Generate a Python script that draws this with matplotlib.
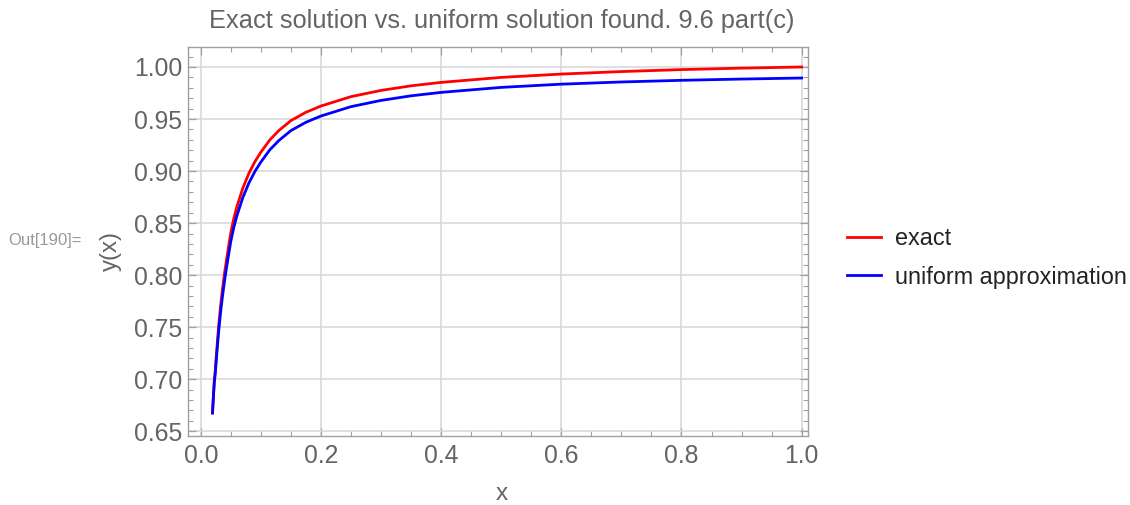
import matplotlib
matplotlib.use("Agg")
import matplotlib.pyplot as plt
from matplotlib.ticker import MultipleLocator, FormatStrFormatter

# ---- data ----
x_vals = [0.0195, 0.021, 0.0225, 0.024, 0.026, 0.028, 0.030, 0.033, 0.036, 0.040,
          0.045, 0.050, 0.055, 0.060, 0.070, 0.080, 0.090, 0.100, 0.115, 0.130,
          0.150, 0.175, 0.200, 0.250, 0.300, 0.350, 0.400, 0.500, 0.600, 0.700,
          0.800, 0.900, 1.000]
exact = [0.6676, 0.6842, 0.6992, 0.708, 0.724, 0.739, 0.753, 0.771, 0.786, 0.804,
         0.823, 0.841, 0.8546, 0.8657, 0.8838, 0.8978, 0.909, 0.9182, 0.9300, 0.9390,
         0.9485, 0.9565, 0.9625, 0.9715, 0.9775, 0.9819, 0.9852, 0.9900, 0.9932, 0.9956,
         0.9975, 0.9989, 1.0000]
uniform = [0.6676, 0.6832, 0.6972, 0.705, 0.720, 0.734, 0.7475, 0.7648, 0.7792, 0.7966,
           0.8151, 0.8327, 0.846, 0.8569, 0.8747, 0.8885, 0.8996, 0.9087, 0.9205, 0.9294,
           0.9389, 0.9469, 0.9529, 0.9619, 0.9679, 0.9723, 0.9756, 0.9804, 0.9835, 0.9856,
           0.9872, 0.9884, 0.9894]
series_names = ["exact", "uniform approximation"]
x_ticks = [0.0, 0.2, 0.4, 0.6, 0.8, 1.0]
y_ticks = [0.65, 0.70, 0.75, 0.80, 0.85, 0.90, 0.95, 1.00]

plt.rcParams['font.family'] = ['Liberation Sans', 'DejaVu Sans']

W, H = 1130, 505
fig = plt.figure(figsize=(W / 100, H / 100), dpi=100)
ax = fig.add_axes([188 / W, 1 - 436 / H, (808 - 188) / W, (436 - 47) / H])

frame_col = '#a0a0a0'
text_col = '#646464'

ax.plot(x_vals, exact, color=(1, 0, 0), lw=2.0, label=series_names[0])
ax.plot(x_vals, uniform, color=(0, 0, 1), lw=2.0, label=series_names[1])

ax.set_xlim(-0.0213, 1.0106)
ax.set_ylim(0.6455, 1.0192)
ax.set_xticks(x_ticks)
ax.set_yticks(y_ticks)
ax.xaxis.set_major_formatter(FormatStrFormatter('%.1f'))
ax.yaxis.set_major_formatter(FormatStrFormatter('%.2f'))
ax.xaxis.set_minor_locator(MultipleLocator(0.05))
ax.yaxis.set_minor_locator(MultipleLocator(0.01))

ax.grid(True, which='major', color='#d9d9d9', lw=1.2)
ax.set_axisbelow(True)
for s in ax.spines.values():
    s.set_color(frame_col)
    s.set_linewidth(1.0)
ax.tick_params(which='both', direction='in', top=True, right=True,
               color=frame_col, labelcolor=text_col, labelsize=17.8)
ax.tick_params(axis='x', which='both', pad=6)
ax.tick_params(axis='y', which='both', pad=4)
ax.tick_params(which='major', length=6, width=0.9)
ax.tick_params(which='minor', length=3.5, width=0.8)

ax.set_title("Exact solution vs. uniform solution found. 9.6 part(c)",
             fontsize=18.3, color=text_col, x=(502 - 188) / 620,
             y=(H - 21 - 69) / 389, va='center', pad=0)
ax.set_xlabel("x", fontsize=17.5, color=text_col)
ax.set_ylabel("y(x)", fontsize=17.3, color=text_col)
ax.xaxis.set_label_coords(502 / W, 1 - 494 / H, transform=fig.transFigure)
ax.xaxis.label.set_va('center')
ax.yaxis.set_label_coords(111 / W, 1 - 251 / H, transform=fig.transFigure)
ax.yaxis.label.set_va('center')

leg = ax.legend(loc='center left', bbox_to_anchor=(847 / W, 1 - 258 / H),
                bbox_transform=fig.transFigure, frameon=False, fontsize=16.8,
                borderpad=0, borderaxespad=0,
                handlelength=1.46, handletextpad=0.6, labelspacing=0.65)
for t in leg.get_texts():
    t.set_color('#222222')

fig.text(8 / W, 1 - 241 / H, "Out[190]=", fontsize=12, color='#999999',
         ha='left', va='center')

fig.savefig("out.png", dpi=100)
